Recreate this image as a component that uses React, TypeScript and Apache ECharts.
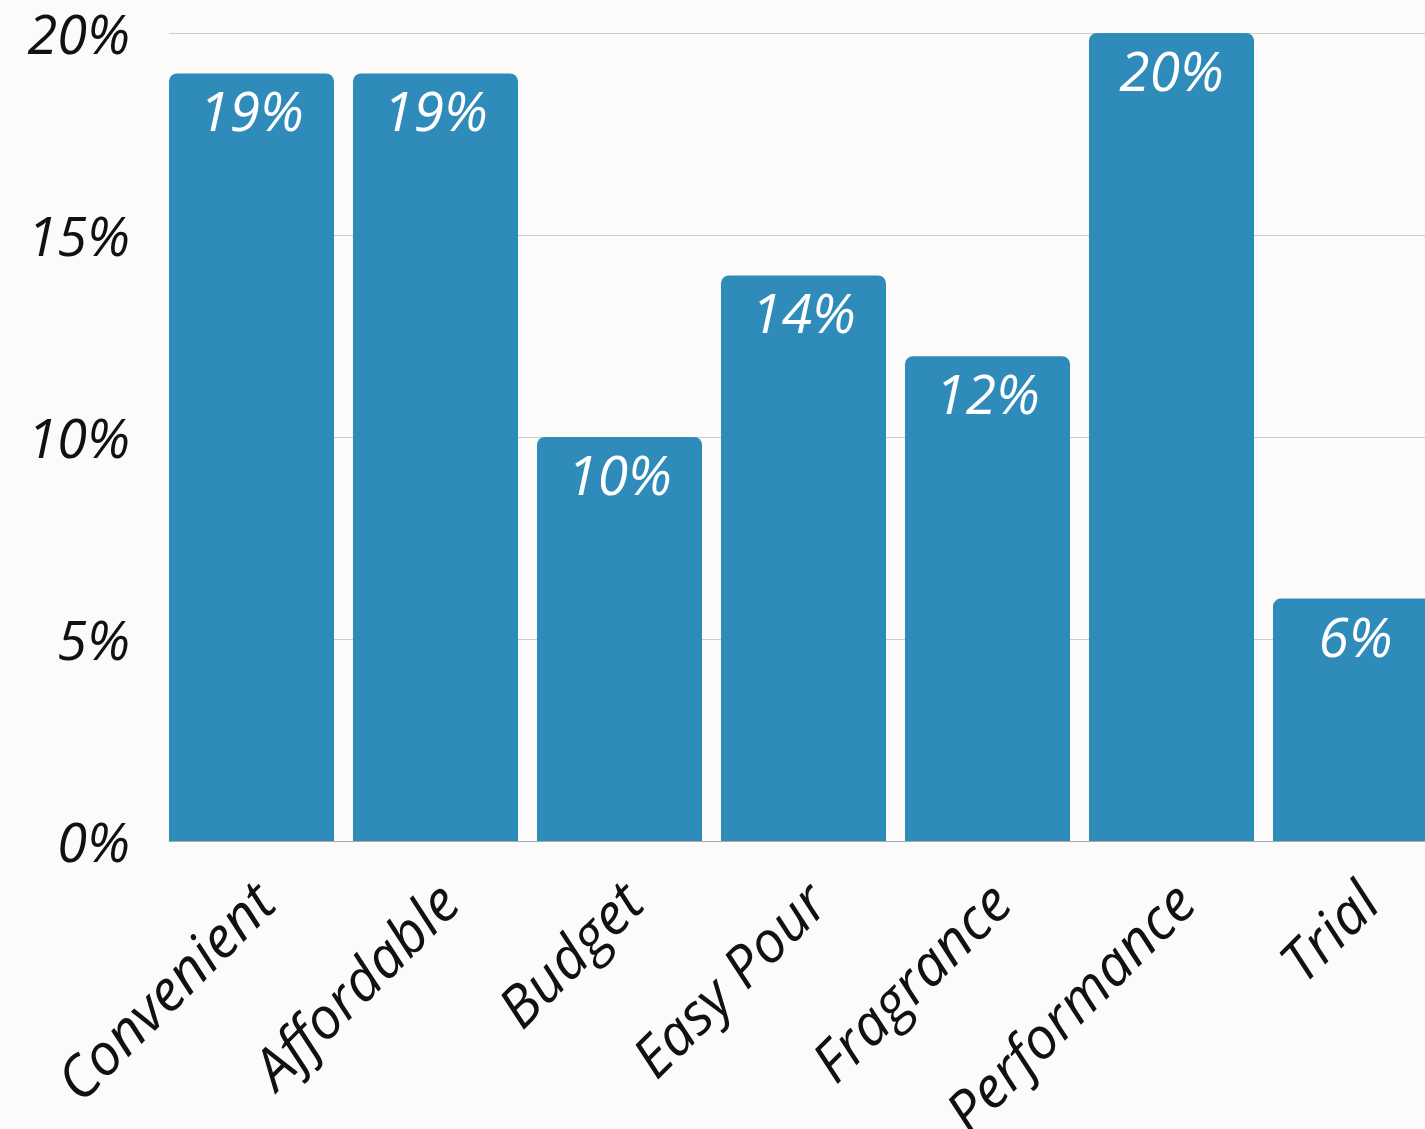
import React, { useEffect, useRef } from "react";
import * as echarts from "echarts";

const categories = ["Convenient", "Affordable", "Budget", "Easy Pour", "Fragrance", "Performance", "Trial"];
const values = [19, 19, 10, 14, 12, 20, 6];
const yTicks = [0, 5, 10, 15, 20];

const FONT = "'Open Sans', sans-serif";

export default function App() {
  const ref = useRef<HTMLDivElement>(null);
  useEffect(() => {
    if (!ref.current) return;
    const chart = echarts.init(ref.current, undefined, { renderer: "svg" });
    chart.setOption({
      animation: false,
      backgroundColor: "#fcfbf9",
      grid: [
        { left: 169, right: 13, top: 33, bottom: 288, containLabel: false, outerBoundsMode: "none" },
        { left: 159.5, right: 22.5, top: 33, bottom: 288, containLabel: false, outerBoundsMode: "none" },
      ],
      xAxis: [
        {
          type: "category",
          gridIndex: 0,
          data: categories,
          show: true,
          axisTick: { show: false },
          axisLabel: { show: false },
          axisLine: { lineStyle: { color: "#aaaaaa", width: 1 } },
        },
        {
          type: "category",
          gridIndex: 1,
          data: categories,
          axisTick: { show: false },
          axisLine: { show: false },
          axisLabel: {
            rotate: 45,
            margin: 38,
            fontSize: 57,
            fontStyle: "italic",
            fontFamily: FONT,
            color: "#111111",
            interval: 0,
            verticalAlign: "top",
            lineHeight: 34,
          },
        },
      ],
      yAxis: [
        {
          type: "value",
          gridIndex: 0,
          min: yTicks[0],
          max: yTicks[yTicks.length - 1],
          interval: 5,
          axisLine: { show: false },
          axisTick: { show: false },
          splitLine: { lineStyle: { color: "#cccccc", width: 1 } },
          axisLabel: {
            formatter: "{value}%",
            fontSize: 54,
            lineHeight: 54,
            fontStyle: "italic",
            fontFamily: FONT,
            color: "#111111",
            margin: 39,
          },
        },
        {
          type: "value",
          gridIndex: 1,
          min: yTicks[0],
          max: yTicks[yTicks.length - 1],
          interval: 5,
          show: false,
          splitLine: { show: false },
        },
      ],
      series: [
        {
          type: "bar",
          xAxisIndex: 1,
          yAxisIndex: 1,
          data: values,
          barCategoryGap: "10.3%",
          itemStyle: { color: "#2e8bba", borderRadius: [8, 8, 0, 0] },
          label: {
            show: true,
            position: "insideTop",
            distance: 9,
            formatter: "{c}%",
            color: "#ffffff",
            fontSize: 55,
            fontStyle: "italic",
            fontFamily: FONT,
          },
        },
      ],
    });
    return () => chart.dispose();
  }, []);
  return (
    <div style={{ position: "fixed", left: 0, top: 0, width: 1425, height: 1129, overflow: "hidden", background: "#fcfbf9" }}>
      <div ref={ref} style={{ width: 1470, height: 1129 }} />
    </div>
  );
}
